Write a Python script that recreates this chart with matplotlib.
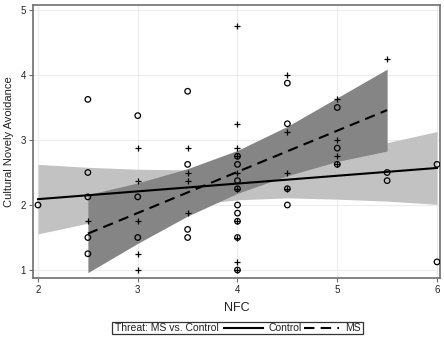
import matplotlib
matplotlib.use('Agg')
import matplotlib.pyplot as plt
from matplotlib.lines import Line2D
from matplotlib.patches import Rectangle

plt.rcParams['font.family'] = ['Liberation Sans', 'DejaVu Sans']

# ---- data ----
control_x = [2,
             2.5, 2.5, 2.5, 2.5, 2.5,
             3, 3, 3,
             3.5, 3.5, 3.5, 3.5,
             4, 4, 4, 4, 4, 4, 4, 4, 4,
             4.5, 4.5, 4.5, 4.5,
             5, 5, 5,
             5.5, 5.5,
             6, 6]
control_y = [2.0,
             3.625, 2.5, 2.125, 1.5, 1.25,
             3.375, 2.125, 1.5,
             3.75, 2.625, 1.625, 1.5,
             2.75, 2.625, 2.375, 2.25, 2.0, 1.875, 1.75, 1.5, 1.0,
             3.875, 3.25, 2.25, 2.0,
             3.5, 2.875, 2.625,
             2.5, 2.375,
             2.625, 1.125]

ms_x = [2.5,
        3, 3, 3, 3, 3,
        3.5, 3.5, 3.5, 3.5,
        4, 4, 4, 4, 4, 4, 4, 4, 4, 4,
        4.5, 4.5, 4.5, 4.5,
        5, 5, 5, 5,
        5.5]
ms_y = [1.75,
        2.875, 2.375, 1.75, 1.25, 1.0,
        2.875, 2.5, 2.375, 1.875,
        4.75, 3.25, 2.875, 2.75, 2.5, 2.25, 1.75, 1.5, 1.125, 1.0,
        4.0, 3.125, 2.5, 2.25,
        3.625, 3.0, 2.75, 2.625,
        4.25]

# fitted lines and confidence bands
control_fit_x = [2, 2.5, 3, 3.5, 4, 4.5, 5, 5.5, 6]
control_fit = [2.09, 2.15, 2.21, 2.27, 2.33, 2.39, 2.45, 2.51, 2.57]
control_upper = [2.625, 2.58, 2.55, 2.54, 2.58, 2.67, 2.81, 2.96, 3.13]
control_lower = [1.555, 1.72, 1.87, 2.00, 2.08, 2.11, 2.09, 2.06, 2.01]

ms_fit_x = [2.5, 3, 3.5, 4, 4.5, 5, 5.5]
ms_fit = [1.56, 1.877, 2.193, 2.51, 2.827, 3.143, 3.46]
ms_upper = [2.16, 2.34, 2.56, 2.84, 3.21, 3.65, 4.09]
ms_lower = [0.96, 1.41, 1.83, 2.18, 2.45, 2.67, 2.83]

x_ticks = [2, 3, 4, 5, 6]
y_ticks = [1, 2, 3, 4, 5]

# ---- figure ----
W, H = 444, 338
fig = plt.figure(figsize=(W / 100, H / 100), dpi=100)
ax = fig.add_axes([33 / W, 1 - 278 / H, (440 - 33) / W, (278 - 5) / H])

ax.fill_between(control_fit_x, control_lower, control_upper,
                color='#c2c2c2', lw=0, zorder=1)
ax.fill_between(ms_fit_x, ms_lower, ms_upper,
                color='#858585', lw=0, zorder=2)
ax.plot(control_fit_x, control_fit, color='black', lw=1.5, zorder=3)
ax.plot(ms_fit_x, ms_fit, color='black', lw=1.5, ls=(0, (5, 3)), zorder=3)

ax.scatter(control_x, control_y, s=16, facecolors='none',
           edgecolors='black', linewidths=0.9, zorder=4)
ax.scatter(ms_x, ms_y, s=22, marker='+', color='black',
           linewidths=0.9, zorder=4)

ax.set_xlim(1.95, 6.03)
ax.set_ylim(0.877, 5.077)
ax.set_xticks(x_ticks)
ax.set_yticks(y_ticks)
ax.set_xticklabels([str(v) for v in x_ticks])
ax.set_yticklabels([str(v) for v in y_ticks])
ax.grid(True, color='#ececec', lw=0.8, zorder=0)
ax.set_axisbelow(True)
for sp in ax.spines.values():
    sp.set_color('#6e6e6e')
    sp.set_linewidth(1.2)
ax.tick_params(axis='both', length=3, width=0.8, color='#6e6e6e',
               labelsize=7, labelcolor='#222222', pad=2)

ax.set_xlabel('NFC', fontsize=9, labelpad=5, color='#222222')
ax.set_ylabel('Cultural Novely Avoidance', fontsize=8, labelpad=5,
              color='#222222')

# ---- legend (drawn manually in figure coords) ----
y0, y1 = 1 - 334 / H, 1 - 322 / H
ym = (y0 + y1) / 2
fig.patches.append(Rectangle((112 / W, y0), (363 - 112) / W, y1 - y0,
                             transform=fig.transFigure, fill=False,
                             edgecolor='#333333', lw=0.9))
fig.text(115 / W, ym, 'Threat: MS vs. Control', fontsize=7.5,
         va='center', ha='left', color='#222222')
fig.lines.append(Line2D([224 / W, 263 / W], [ym, ym], transform=fig.transFigure,
                        color='black', lw=1.5))
fig.text(268 / W, ym, 'Control', fontsize=7.5, va='center', ha='left',
         color='#222222')
fig.lines.append(Line2D([304 / W, 339 / W], [ym, ym], transform=fig.transFigure,
                        color='black', lw=1.5, ls=(0, (5, 3))))
fig.text(345 / W, ym, 'MS', fontsize=7.5, va='center', ha='left',
         color='#222222')

fig.savefig('out.png', dpi=100)
